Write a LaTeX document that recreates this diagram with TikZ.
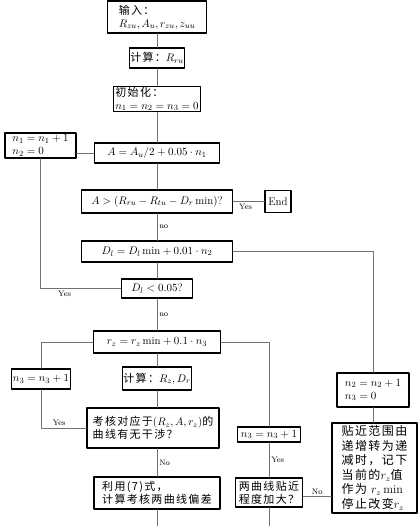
\documentclass[tikz,border=0pt]{standalone}
\usepackage{fontspec}
\newfontfamily\cjk[LetterSpace=12]{Noto Sans CJK SC}
\begin{document}
\begin{tikzpicture}[x=1pt, y=-1pt, line join=round, line cap=round,
	box/.style={draw, line width=1.1pt, inner sep=1pt, align=center, font=\fontsize{11}{13}\selectfont},
	zh/.style={font=\fontsize{11}{13}\selectfont\cjk},
	link/.style={draw=black!55, line width=0.5pt},
	lab/.style={font=\footnotesize, inner sep=2pt}]
				\def\xm{157} \def\ybot{526}
				\useasboundingbox (0,0) rectangle (418,\ybot);
				\node (in) at (\xm,17) [box,zh,align=left,minimum width=99,minimum height=32]{输入：\\$R_{zu},A_u,r_{zu},z_{uu}$};
				\node (Rru) at (\xm,58) [box,zh,minimum width=52,minimum height=20]{计算：$R_{ru}$};
				\node (init) at (\xm,99) [box,zh,align=left,minimum width=87,minimum height=22]{初始化：\\$n_1=n_2=n_3=0$};
				\node (A) at (\xm,153) [box,minimum width=125,minimum height=20]{$A=A_u/2+0.05\cdot n_1$};
				\node (n1) at (40.5,145.5) [box,align=left,minimum width=71,minimum height=25]{$n_1=n_1+1$\\$n_2=0$};
				\node (cond) at (\xm,201.5) [box,minimum width=151,minimum height=23]{$A>(R_{ru}-R_{tu}-D_r\,\mathrm{min})$?};
				\node (End) at (278,201.5) [box,minimum width=26,minimum height=22]{End};
				\node (Dl) at (\xm,251.5) [box,minimum width=151,minimum height=21]{$D_l=D_l\,\mathrm{min}+0.01\cdot n_2$};
				\node (Dlt) at (\xm,288.5) [box,minimum width=71,minimum height=19]{$D_l<0.05$?};
				\node (rz) at (\xm,342) [box,minimum width=127,minimum height=22]{$r_z=r_z\,\mathrm{min}+0.1\cdot n_3$};
				\node (n3a) at (41,379) [box,minimum width=54,minimum height=20]{$n_3=n_3+1$};
				\node (RzDr) at (\xm,378.5) [box,zh,minimum width=68,minimum height=23]{计算：$R_z,D_r$};
				\node (check) at (153,428) [box,zh,align=left,minimum width=132,minimum height=40]{考核对应于$(R_z,A,r_z)$的\\曲线有无干涉？};
				\node (use7) at (\xm,493) [box,zh,align=left,minimum width=126,minimum height=32]{利用(7)式，\\计算考核两曲线偏差};
				\node (n3b) at (269,434.5) [box,minimum width=63,minimum height=15]{$n_3=n_3+1$};
				\node (closer) at (269,492.5) [box,zh,align=left,minimum width=67,minimum height=29]{两曲线贴近\\程度加大？};
				\node (n2) at (373,390) [box,align=left,minimum width=72,minimum height=34]{$n_2=n_2+1$\\$n_3=0$};
				\node (big) at (374.5,468) [box,zh,align=left,minimum width=85,minimum height=90,font=\fontsize{12}{14.5}\selectfont\cjk]{贴近范围由\\递增转为递\\减时，记下\\当前的$r_z$值\\作为 $r_z\,\mathrm{min}$\\停止改变$r_z$};
				\coordinate (e1) at (\xm,\ybot);
				\coordinate (e2) at (269,\ybot);
				\draw[link] (in)--(Rru) (Rru)--(init) (init)--(A) (A)--(cond);
				\draw[link] (A.west)--(A.west -| n1.east);
				\draw[link] (n1.south) |- (Dlt.west) node[lab,below,pos=0.65]{Yes};
				\draw[link] (cond)--(End) node[lab,below,pos=0.4]{Yes};
				\draw[link] (cond)--(Dl) node[lab,right,midway]{no};
				\draw[link] (Dl)--(Dlt);
				\draw[link] (Dlt)--(rz) node[lab,right,midway]{no};
				\draw[link] (Dl.east) -| (n2.north);
				\draw[link] (rz.west) -| (n3a.north);
				\draw[link] (rz.east) -| (n3b.north);
				\draw[link] (check.west) -| (n3a.south) node[lab,above,pos=0.3]{Yes};
				\draw[link] (rz)--(RzDr) (RzDr.south)--(RzDr.south |- check.north);
				\draw[link] (check.south -| RzDr)--(use7) node[lab,right,midway]{No};
				\draw[link] (use7)--(e1);
				\draw[link] (n3b)--(closer) node[lab,right,midway]{Yes};
				\draw[link] (closer)--(e2);
				\draw[link] ([yshift=-4]closer.east)--([yshift=-4]closer.east -| big.west) node[lab,above,midway]{No};
				\draw[link] (n2.south)--(n2.south |- big.north);
\end{tikzpicture}
\end{document}
